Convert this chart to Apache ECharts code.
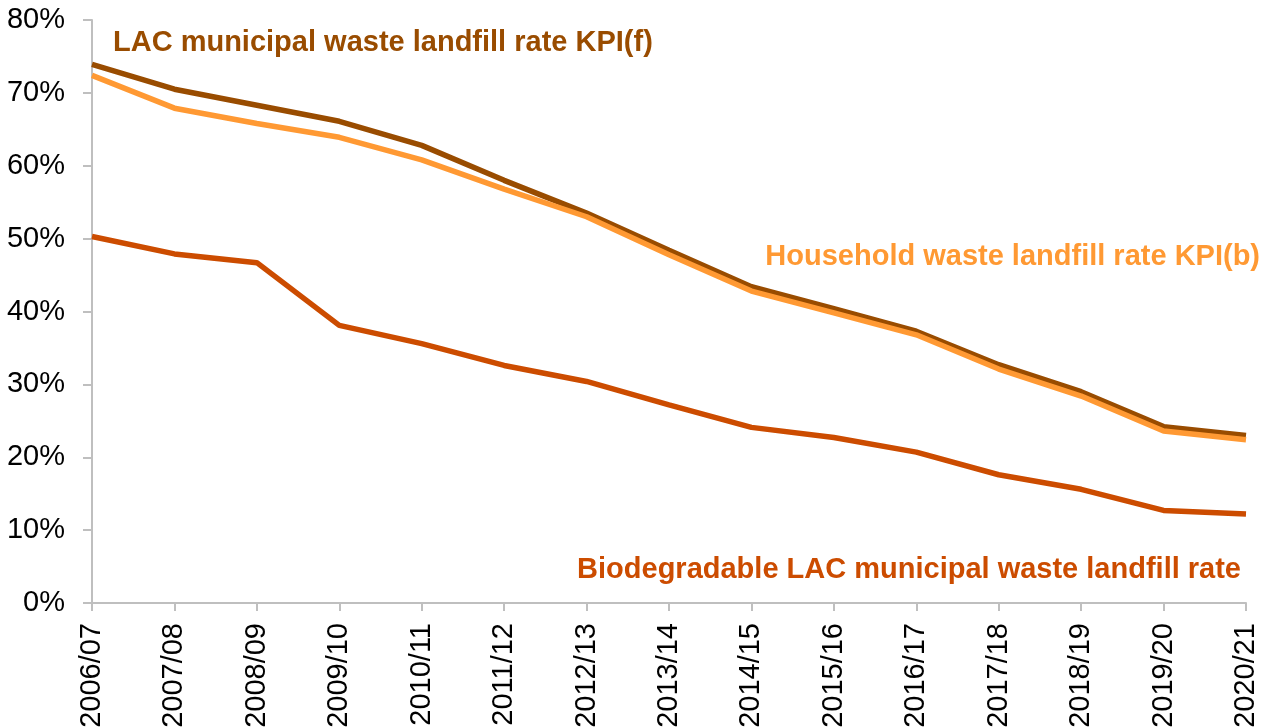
<!DOCTYPE html>
<html>
<head>
<meta charset="utf-8">
<script src="https://cdn.jsdelivr.net/npm/echarts@6/dist/echarts.min.js"></script>
<style>
html,body{margin:0;padding:0;background:#fff;}
#chart{width:1273px;height:728px;}
</style>
</head>
<body>
<div id="chart"></div>
<script>
const categories = ['2006/07','2007/08','2008/09','2009/10','2010/11','2011/12','2012/13','2013/14','2014/15','2015/16','2016/17','2017/18','2018/19','2019/20','2020/21'];
const lacKpiF = [73.9, 70.5, 68.3, 66.1, 62.8, 58.0, 53.5, 48.4, 43.4, 40.4, 37.3, 32.7, 29.0, 24.2, 23.0];
const householdKpiB = [72.4, 67.9, 65.8, 63.9, 60.8, 56.8, 53.0, 47.8, 42.8, 39.8, 36.8, 32.1, 28.4, 23.6, 22.4];
const biodegradable = [50.3, 47.9, 46.7, 38.1, 35.6, 32.6, 30.4, 27.2, 24.1, 22.7, 20.7, 17.6, 15.6, 12.7, 12.2];
const seriesNames = ['LAC municipal waste landfill rate KPI(f)', 'Household waste landfill rate KPI(b)', 'Biodegradable LAC municipal waste landfill rate'];

const FONT = '"Liberation Sans", Arial, sans-serif';
const C_LAC = '#994C00', C_HH = '#FF9933', C_BIO = '#CC4C00';

const chart = echarts.init(document.getElementById('chart'), null, {renderer: 'canvas'});
chart.setOption({
  animation: false,
  backgroundColor: '#fff',
  grid: {left: 92, right: 27, top: 20, bottom: 125, containLabel: false, outerBoundsMode: 'none'},
  xAxis: {
    type: 'category',
    data: categories,
    boundaryGap: false,
    axisLine: {lineStyle: {color: '#BFBFBF', width: 2}},
    axisTick: {alignWithLabel: true, length: 8, lineStyle: {color: '#BFBFBF', width: 2}},
    axisLabel: {rotate: 90, color: '#000', fontFamily: FONT, fontSize: 29, margin: 20, interval: 0}
  },
  yAxis: {
    type: 'value',
    min: 0, max: 80, interval: 10,
    axisLine: {show: true, lineStyle: {color: '#BFBFBF', width: 2}},
    axisTick: {show: true, length: 9, lineStyle: {color: '#BFBFBF', width: 2}},
    splitLine: {show: false},
    axisLabel: {formatter: '{value}%', color: '#000', fontFamily: FONT, fontSize: 29, margin: 27}
  },
  series: [
    {name: seriesNames[0], type: 'line', data: lacKpiF, showSymbol: false, lineStyle: {color: C_LAC, width: 5.5}, itemStyle: {color: C_LAC}},
    {name: seriesNames[1], type: 'line', data: householdKpiB, showSymbol: false, lineStyle: {color: C_HH, width: 5.5}, itemStyle: {color: C_HH}},
    {name: seriesNames[2], type: 'line', data: biodegradable, showSymbol: false, lineStyle: {color: C_BIO, width: 5.5}, itemStyle: {color: C_BIO}}
  ],
  graphic: [
    {type: 'text', left: 113, top: 28, style: {text: seriesNames[0], fill: C_LAC, font: 'bold 29px ' + FONT}},
    {type: 'text', right: 13, top: 242, style: {text: seriesNames[1], fill: C_HH, font: 'bold 29px ' + FONT}},
    {type: 'text', right: 32, top: 555, style: {text: seriesNames[2], fill: C_BIO, font: 'bold 29px ' + FONT}}
  ]
});
</script>
</body>
</html>
